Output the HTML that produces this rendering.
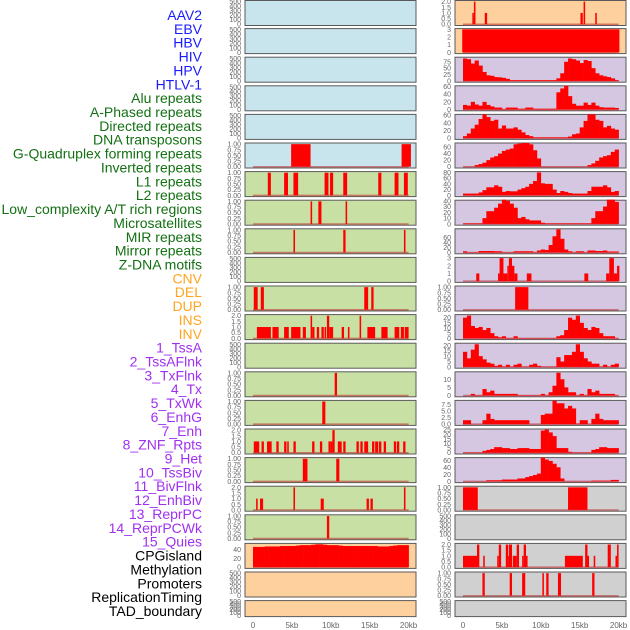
<!DOCTYPE html>
<html><head><meta charset="utf-8">
<style>
html,body{margin:0;padding:0;background:#fff;}
svg{display:block;font-family:"Liberation Sans",sans-serif;}
</style></head>
<body>
<svg id="chart" width="630" height="630" viewBox="0 0 630 630" xmlns="http://www.w3.org/2000/svg"></svg>
<script>
// ---- category labels ----
const labelNames = ["AAV2","EBV","HBV","HIV","HPV","HTLV-1","Alu repeats","A-Phased repeats","Directed repeats","DNA transposons","G-Quadruplex forming repeats","Inverted repeats","L1 repeats","L2 repeats","Low_complexity A/T rich regions","Microsatellites","MIR repeats","Mirror repeats","Z-DNA motifs","CNV","DEL","DUP","INS","INV","1_TssA","2_TssAFlnk","3_TxFlnk","4_Tx","5_TxWk","6_EnhG","7_Enh","8_ZNF_Rpts","9_Het","10_TssBiv","11_BivFlnk","12_EnhBiv","13_ReprPC","14_ReprPCWk","15_Quies","CPGisland","Methylation","Promoters","ReplicationTiming","TAD_boundary"];
const labelGroups = [0,0,0,0,0,0,1,1,1,1,1,1,1,1,1,1,1,1,1,2,2,2,2,2,3,3,3,3,3,3,3,3,3,3,3,3,3,3,3,4,4,4,4,4];
const groupColors = ["#1a1aff","#137013","#ffa520","#a030f0","#000000"];
const xTickValues = [0,5,10,15,20];
const xTickLabels = ["0","5kb","10kb","15kb","20kb"];

// ---- segment data [startKb, endKb, value] ----
const L5  = [[4.9,7.4,1],[19.1,20.3,1]];
const L6  = [[1.9,2.3,1],[4.0,4.5,1],[5.2,5.8,1],[9.2,9.7,1],[9.9,10.3,1],[11.6,12.1,1],[16.1,16.5,1],[18.2,18.7,1],[19.4,19.9,1]];
const L7  = [[7.4,7.6,1],[8.4,8.8,1],[11.9,12.1,1]];
const L8  = [[5.2,5.4,1],[11.6,11.9,1],[19.4,19.6,1]];
const L10 = [[0.1,0.6,1],[1.0,1.4,1],[14.3,14.8,1],[15.2,15.5,1]];
const L11 = [[0.5,2.3,1],[2.5,3.3,1],[4.0,4.6,1],[4.9,6.1,1],[6.4,6.8,1],[7.4,7.6,2],[7.6,7.9,1],[8.2,8.5,1],[8.8,9.1,1],[9.2,9.4,1],[9.5,9.8,2],[9.8,10.3,1],[11.4,11.7,1],[12.2,12.4,1],[13.7,13.9,2],[14.7,15.7,1],[16.5,17.3,1],[18.2,18.8,1],[19.0,19.4,1],[19.5,20.0,1]];
const L13 = [[10.5,10.8,1]];
const L14 = [[8.9,9.3,1]];
const L15 = [[0.1,0.8,1],[1.1,1.4,1],[1.8,2.4,1],[3.0,3.3,1],[4.0,4.3,1],[4.4,4.6,1],[5.2,5.5,1],[7.6,7.9,1],[8.6,8.9,1],[9.7,10.0,1],[10.0,10.2,1],[10.2,10.5,2],[10.9,11.4,1],[11.6,11.9,1],[13.3,13.6,1],[13.8,14.1,1],[14.3,14.8,1],[15.3,15.6,1],[15.7,16.1,1],[16.2,16.5,1],[16.8,17.1,1],[18.1,18.4,1],[18.5,18.8,1],[19.3,19.6,1]];
const L16 = [[6.4,7.0,1],[10.7,11.1,1]];
const L17 = [[0.4,0.6,1],[0.9,1.3,1],[5.2,5.4,2],[8.7,9.1,1],[14.6,14.9,1],[15.1,15.4,1],[19.4,19.6,2]];
const L18 = [[9.5,9.8,1]];
const R0  = [[1.2,1.4,1],[1.4,1.6,2],[2.8,3.1,1],[15.1,15.4,1],[15.5,15.7,2],[17.0,17.2,1]];
const R1  = [[-0.1,20.1,3]];
const R9  = [[1.7,2.1,1],[4.5,4.7,1],[4.7,5.2,3],[5.2,5.7,1],[5.7,5.9,2],[5.9,6.3,3],[6.3,6.6,2],[6.6,7.0,1],[8.2,8.8,1],[15.6,16.1,1],[18.4,18.8,1],[18.8,19.4,3],[19.4,19.8,1],[19.8,20.1,2]];
const R10 = [[6.7,8.4,1]];
const R17 = [[0,1.9,1],[13.5,16.0,1]];
const R19 = [[0,1.8,1],[1.8,2.1,2],[2.6,2.8,1],[4.4,4.6,1],[4.6,4.9,2],[5.5,5.8,2],[5.8,5.9,1],[5.9,6.3,2],[6.4,6.9,1],[6.9,7.2,2],[7.6,7.8,1],[7.8,8.1,2],[8.1,8.3,1],[13.1,15.4,1],[15.7,16.0,2],[16.0,16.2,1],[16.8,17.0,1],[18.6,19.0,2],[19.6,19.8,1],[19.8,20.0,2]];
const R20 = [[2.5,2.8,1],[6.0,6.3,1],[7.6,8.0,1],[10.2,10.4,1],[10.7,11.0,1],[12.2,12.6,1],[16.6,16.9,1]];

// ---- histogram data (0.5 kb bins from 0 to 20 kb) ----
const L19h = [46,46,46,47,47,47,47,48,48,48,48,49,50,50,50,51,52,52,51,50,50,50,49,48,48,48,48,48,48,48,48,48,47,47,47,48,49,50,50,50];
const R2h  = [88,85,68,80,60,35,22,20,15,14,12,8,3,3,3,3,3,3,3,3,3,3,3,3,10,30,75,88,85,80,70,82,78,50,30,22,18,15,10,3];
const R3h  = [12,10,20,13,10,20,12,8,5,5,1,5,5,5,2,2,5,5,2,2,2,2,2,2,45,55,62,35,15,10,10,18,12,18,10,6,5,5,5,4];
const R4h  = [5,12,25,35,50,62,55,45,48,25,33,25,25,28,22,15,8,5,2,2,2,2,2,2,2,2,2,4,10,12,28,45,62,62,48,45,28,32,25,22];
const R5h  = [0.3,0.3,0.3,5,8,12,20,28,32,40,48,52,55,68,70,72,72,68,50,25,0.3,0.3,0.3,0.3,0.3,0.3,0.3,0.3,0.3,0.3,0.3,0.3,5,10,18,28,32,35,45,52];
const R6h  = [6,6,6,6,10,18,28,28,35,30,12,15,14,14,20,25,30,40,50,80,42,40,40,20,8,15,12,8,6,6,6,6,15,30,30,30,35,28,12,15];
const R7h  = [1,1,1,1,1,10,22,22,28,35,42,40,35,28,10,12,8,6,6,6,2,1,1,1,1,1,1,1,1,1,1,1,1,10,22,22,30,42,42,38];
const R8h  = [5,1,1,1,6,6,6,6,5,5,1,1,1,5,5,5,5,5,1,8,12,10,30,65,93,55,12,5,1,5,5,1,8,8,6,6,8,4,4,4];
const R11h = [20,22,12,10,11,8,10,5,2,1,2,0.3,0.3,2,0.3,0.3,0.3,0.3,0.3,0.3,0.3,0.3,0.3,0.3,2,3,8,20,18,22,15,10,8,11,10,5,2,2,2,0.3];
const R12h = [14,8,16,21,10,7,4,3,1,2,0.3,2,0.3,2,3,0.3,0.3,2,3,1,0.3,0.3,0.3,0.3,9,5,11,11,14,21,14,8,5,3,3,0.3,2,0.3,2,3];
const R13h = [0,0,1,0.2,0.2,4,2,3,1,1,1,1,1,1,0.2,0.2,0.2,0.2,0.2,0.2,1,0.2,2,6,14,10,5,2,2,0.2,1,0.2,4,2,3,1,1,1,1,0.2];
const R14h = [1.5,1.5,0,0,0,1.5,4,2,1.5,1.5,1.5,1.5,1.5,1.5,1.5,1.5,1.5,0,0,0,3.5,4,4,9,8,8,6,7,6,0.2,1.5,1.5,0,2,4,2,1.5,1.5,1.5,1.5];
const R15h = [0.3,0.3,0.3,0.3,0.3,2,3,4,6,6,5,5,4,4,5,5,5,4,4,4,24,25,22,18,5,5,5,1,0.3,0.3,0.3,0.3,0.3,3,4,6,6,5,5,5];
const R16h = [0.3,0.3,0.3,0.3,0.3,0.3,3,3,3,3,5,5,5,5,8,8,12,15,18,22,68,62,58,50,40,8,0.3,0.3,0.3,0.3,0.3,0.3,0.3,2,2,2,2,2,4,4];

// tick label sets
const ticks500 = [0,100,200,300,400,500];
const ticks1 = [0,0.25,0.5,0.75,1];
const ticks2 = [0,0.5,1,1.5,2];

// panel specs: [data, kind('seg'|'hist'|'none'), ymax, ticks, decimals, bg]
const BLUE="#c8e4ec", GREEN="#c8e0a4", ORANGE="#fed09e", PURPLE="#d5c6e2", GRAY="#d0d0d0";
const leftPanels = [
 [null,'none',525,ticks500,0,BLUE],[null,'none',525,ticks500,0,BLUE],[null,'none',525,ticks500,0,BLUE],
 [null,'none',525,ticks500,0,BLUE],[null,'none',525,ticks500,0,BLUE],[L5,'seg',1.05,ticks1,2,BLUE],
 [L6,'seg',1.05,ticks1,2,GREEN],[L7,'seg',1.05,ticks1,2,GREEN],[L8,'seg',1.05,ticks1,2,GREEN],
 [null,'none',525,ticks500,0,GREEN],[L10,'seg',1.05,ticks1,2,GREEN],[L11,'seg',2.1,ticks2,1,GREEN],
 [null,'none',525,ticks500,0,GREEN],[L13,'seg',1.05,ticks1,2,GREEN],[L14,'seg',1.05,ticks1,2,GREEN],
 [L15,'seg',2.1,ticks2,1,GREEN],[L16,'seg',1.05,ticks1,2,GREEN],[L17,'seg',2.1,ticks2,1,GREEN],
 [L18,'seg',1.05,ticks1,2,GREEN],[L19h,'hist',54,[0,20,40],0,ORANGE],
 [null,'none',525,ticks500,0,ORANGE],[null,'none',525,ticks500,0,ORANGE]
];
const rightPanels = [
 [R0,'seg',2.1,ticks2,1,ORANGE],[R1,'seg',3.1,[0,1,2,3],0,ORANGE],
 [R2h,'hist',93,[0,25,50,75],0,PURPLE],[R3h,'hist',62,[0,20,40,60],0,PURPLE],
 [R4h,'hist',62,[0,20,40,60],0,PURPLE],[R5h,'hist',72,[0,20,40,60],0,PURPLE],
 [R6h,'hist',83,[0,20,40,60,80],0,PURPLE],[R7h,'hist',41,[0,10,20,30,40],0,PURPLE],
 [R8h,'hist',95,[0,20,40,60],0,PURPLE],[R9,'seg',3.1,[0,1,2,3],0,PURPLE],
 [R10,'seg',1.05,ticks1,2,PURPLE],[R11h,'hist',23,[0,5,10,15,20],0,PURPLE],
 [R12h,'hist',22,[0,5,10,15,20],0,PURPLE],[R13h,'hist',14.6,[0,5,10],0,PURPLE],
 [R14h,'hist',9.1,[0,2.5,5,7.5],1,PURPLE],[R15h,'hist',25.7,[0,5,10,15,20,25],0,PURPLE],
 [R16h,'hist',67.6,[0,20,40,60],0,PURPLE],[R17,'seg',1.05,ticks1,2,GRAY],
 [null,'none',525,ticks500,0,GRAY],[R19,'seg',2.1,ticks2,1,GRAY],
 [R20,'seg',1.05,ticks1,2,GRAY],[null,'none',525,ticks500,0,GRAY]
];

const svg = document.getElementById('chart');
const NS = "http://www.w3.org/2000/svg";
function mk(tag, attrs, parent){ const e=document.createElementNS(NS,tag); for(const k in attrs) e.setAttribute(k,attrs[k]); (parent||svg).appendChild(e); return e; }

// labels
labelNames.forEach((name,i)=>{
  const t = mk('text',{x:202,y:15+i*13.86+5,'text-anchor':'end','font-size':14,fill:groupColors[labelGroups[i]]});
  t.textContent = name;
  
  
});

const PW = 171, KB = 7.78;
function drawColumn(panels, colX, side){
  const xs = kb => colX + 8 + kb*KB;
  panels.forEach((p,i)=>{
    const [data, kind, ymax, ticks, dec, bg] = p;
    const top = i*28.6 + (i===0?0.5:0);
    const h = (i===21) ? 16 : 25;
    const padB = 1.3;
    const ys = v => top + h - padB - (v/ymax)*(h-padB);
    const g = mk('g',{});
    
    
    const r = mk('rect',{x:colX,y:top,width:PW,height:h,fill:bg,stroke:'#5a5a5a','stroke-width':1},g);
    
    
    if(kind!=='none'){
      const bl = mk('line',{x1:xs(0),x2:xs(20),y1:top+h-1.2,y2:top+h-1.2,stroke:'rgba(190,40,40,0.55)','stroke-width':1.6},g);
      
      
    }
    if(kind==='seg'){
      data.forEach(s=>{
        const b = mk('rect',{x:xs(s[0]),y:ys(s[2]),width:Math.max(1.2,xs(s[1])-xs(s[0])),height:ys(0)-ys(s[2]),fill:'#ff0000'},g);
        
        
      });
    } else if(kind==='hist'){
      data.forEach((v,j)=>{
        const b = mk('rect',{x:xs(j*0.5),y:ys(v),width:xs((j+1)*0.5)-xs(j*0.5)+0.3,height:Math.max(0,ys(0)-ys(v)),fill:'#ff0000'},g);
        
        
      });
    }
    ticks.forEach(tv=>{
      const t = mk('text',{x:colX-4,y:ys(tv)+2.5,'text-anchor':'end','font-size':7,fill:'#666'},g);
      t.textContent = tv.toFixed(dec);
      
      
    });
  });
  xTickValues.forEach((v,k)=>{
    const t = mk('text',{x:xs(v),y:628,'text-anchor':'middle','font-size':8,fill:'#666'});
    t.textContent = xTickLabels[k];
    
    
  });
}
drawColumn(leftPanels, 245, 'left');
drawColumn(rightPanels, 455, 'right');
</script>
</body></html>
